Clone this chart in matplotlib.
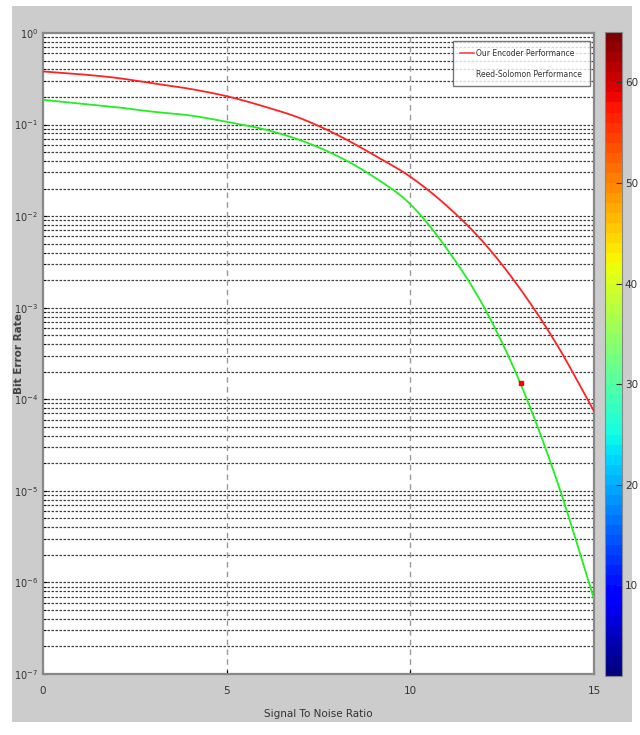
import numpy as np
import matplotlib
matplotlib.use('Agg')
import matplotlib.pyplot as plt
from matplotlib.patches import Rectangle
from matplotlib.lines import Line2D
from matplotlib.colors import Normalize
import matplotlib.cm as cm

snr = [0, 1, 2, 3, 4, 5, 6, 7, 8, 9, 10, 11, 12, 13, 14, 15]
# log10 of bit error rate
ours_log = [-0.42, -0.45, -0.49, -0.55, -0.61, -0.69, -0.80, -0.93, -1.11, -1.33,
            -1.57, -1.89, -2.29, -2.80, -3.41, -4.13]
rs_log = [-0.73, -0.77, -0.81, -0.86, -0.90, -0.97, -1.05, -1.17, -1.34, -1.57,
          -1.87, -2.36, -2.99, -3.83, -4.90, -6.18]
mark_x = [13.0]
mark_y = [1.5e-4]
labels = ['Our Encoder Performance', 'Reed-Solomon Performance']
xticks = [0, 5, 10, 15]
cbar_ticks = [10, 20, 30, 40, 50, 60]


def smooth(x, y, n=20):
    # catmull-rom through the read points
    x = np.asarray(x, float)
    y = np.asarray(y, float)
    xp = np.concatenate([[2*x[0]-x[1]], x, [2*x[-1]-x[-2]]])
    yp = np.concatenate([[2*y[0]-y[1]], y, [2*y[-1]-y[-2]]])
    ox, oy = [], []
    for i in range(1, len(xp)-2):
        t = np.linspace(0, 1, n, endpoint=False)
        p0, p1, p2, p3 = yp[i-1], yp[i], yp[i+1], yp[i+2]
        v = 0.5*((2*p1) + (-p0+p2)*t + (2*p0-5*p1+4*p2-p3)*t**2 + (-p0+3*p1-3*p2+p3)*t**3)
        ox.extend(xp[i] + (xp[i+1]-xp[i])*t)
        oy.extend(v)
    ox.append(x[-1])
    oy.append(y[-1])
    return np.array(ox), 10 ** np.array(oy)


fig = plt.figure(figsize=(6.4, 7.35), dpi=100, facecolor='white')
fig.patches.append(Rectangle((12/640, 1-722/735), 620/640, 716/735,
                             transform=fig.transFigure, facecolor='#cccccc',
                             edgecolor='none', zorder=-10))

ax = fig.add_axes([43/640, 1-674/735, 551/640, 641/735])
ax.set_yscale('log')
ax.set_xlim(0, 15)
ax.set_ylim(1e-7, 1)

# grid: dotted horizontal at every decade/minor, dashed grey at x=5,10
for d in range(-7, 0):
    for m in range(1, 10):
        v = m * 10.0 ** d
        ax.axhline(v, color='black', lw=0.9, ls=(0, (2, 1.2)), alpha=0.75, zorder=1)
for xv in [5, 10]:
    ax.axvline(xv, color='#999999', lw=1.0, ls=(0, (4, 3)), zorder=1)

x1, y1 = smooth(snr, ours_log)
x2, y2 = smooth(snr, rs_log)
ax.plot(x1, y1, color='#ff2222', lw=1.3, zorder=3)
ax.plot(x2, y2, color='#22ee22', lw=1.3, zorder=3)
ax.plot(mark_x, mark_y, 's', color='red', ms=3, zorder=4)

ax.set_xticks(xticks)
ax.set_xticklabels([str(t) for t in xticks], fontsize=7.5, color='#333333')
ax.set_yticks([10.0 ** k for k in range(-7, 1)])
ax.set_yticklabels([r'$10^{%d}$' % k for k in range(-7, 1)], fontsize=7, color='#333333')
ax.tick_params(axis='both', which='both', direction='in', length=3, color='black')
ax.tick_params(axis='x', pad=9)
ax.tick_params(axis='y', which='minor', length=2)
for s in ax.spines.values():
    s.set_color('#888888')
    s.set_linewidth(1.6)

ax.set_xlabel('Signal To Noise Ratio', fontsize=7.5, color='#333333', labelpad=9)
ax.set_ylabel('Bit Error Rate', fontsize=7.5, color='#444444', fontweight='bold')
ax.yaxis.set_label_coords(-0.034, 0.5)

handles = [Line2D([], [], color='#ff4444', lw=1.2),
           Line2D([], [], color='none', lw=1.2)]
leg = ax.legend(handles, labels, loc='upper right', bbox_to_anchor=(0.995, 0.99),
                frameon=True, fancybox=False, handlelength=1.8, handletextpad=0.3,
                borderpad=1.0, borderaxespad=0.2, labelspacing=1.6, prop={'size': 5.5})
leg.get_frame().set_edgecolor('#555555')
leg.get_frame().set_linewidth(1.0)
for t in leg.get_texts():
    t.set_color('#333333')

cax = fig.add_axes([605/640, 1-676/735, 17/640, 644/735])
cmap = plt.get_cmap('jet', 64)
cb = fig.colorbar(cm.ScalarMappable(norm=Normalize(1, 65), cmap=cmap), cax=cax,
                  ticks=cbar_ticks)
cb.ax.tick_params(direction='in', length=4, labelsize=7.5, colors='#333333', pad=2)
cb.outline.set_edgecolor('#888888')

fig.savefig('out.png', dpi=100, facecolor='white')
